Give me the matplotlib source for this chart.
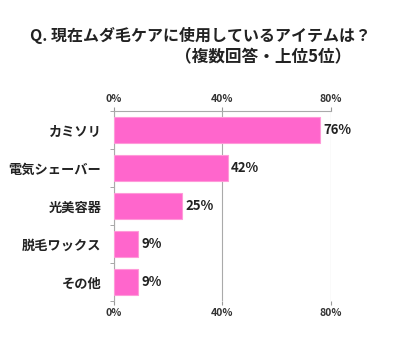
import matplotlib.pyplot as plt
from matplotlib.ticker import FixedLocator

plt.rcParams['font.family'] = ['Noto Sans CJK JP', 'DejaVu Sans']

items = ['カミソリ', '電気シェーバー', '光美容器', '脱毛ワックス', 'その他']
values = [76, 42, 25, 9, 9]
ticks = [0, 40, 80]

fig = plt.figure(figsize=(4.0, 3.38), dpi=100)
ax = fig.add_axes([0.285, 0.1095, 0.5425, 0.562])

ypos = list(range(len(items)))
ax.barh(ypos, values, height=0.7, color='#ff66cc', edgecolor='#ff9ad9', linewidth=0.8, zorder=3)
for y, v in zip(ypos, values):
    ax.text(v + 1.2, y, f'{v}%', va='center', ha='left', fontsize=9.5, fontweight='bold', color='#222222')

ax.set_xlim(0, 80)
ax.set_ylim(len(items) - 0.5, -0.5)
ax.set_xticks(ticks)
ax.set_xticklabels([f'{t}%' for t in ticks], fontweight='bold')
ax.tick_params(axis='x', which='both', top=True, labeltop=True, bottom=True, labelbottom=True,
               length=3, color='#999999', labelsize=7.5, labelcolor='#333333', pad=2)
ax.grid(axis='x', color='#aaaaaa', linewidth=0.8, zorder=0)

ax.set_yticks(ypos)
ax.set_yticklabels(items, fontsize=9.5, fontweight='bold', color='#222222')
ax.tick_params(axis='y', which='major', length=0, pad=9)
ax.yaxis.set_minor_locator(FixedLocator([i - 0.5 for i in range(len(items) + 1)]))
ax.tick_params(axis='y', which='minor', length=3, color='#999999')

for s in ['bottom', 'right']:
    ax.spines[s].set_visible(False)
for s in ['top', 'left']:
    ax.spines[s].set_color('#aaaaaa')
    ax.spines[s].set_linewidth(0.8)

fig.text(0.5, 0.895, 'Q. 現在ムダ毛ケアに使用しているアイテムは？', ha='center', va='center',
         fontsize=11.5, fontweight='bold', color='#222222')
fig.text(0.878, 0.83, '（複数回答・上位5位）', ha='right', va='center',
         fontsize=12, fontweight='bold', color='#222222')

fig.savefig('out.png', dpi=100)
